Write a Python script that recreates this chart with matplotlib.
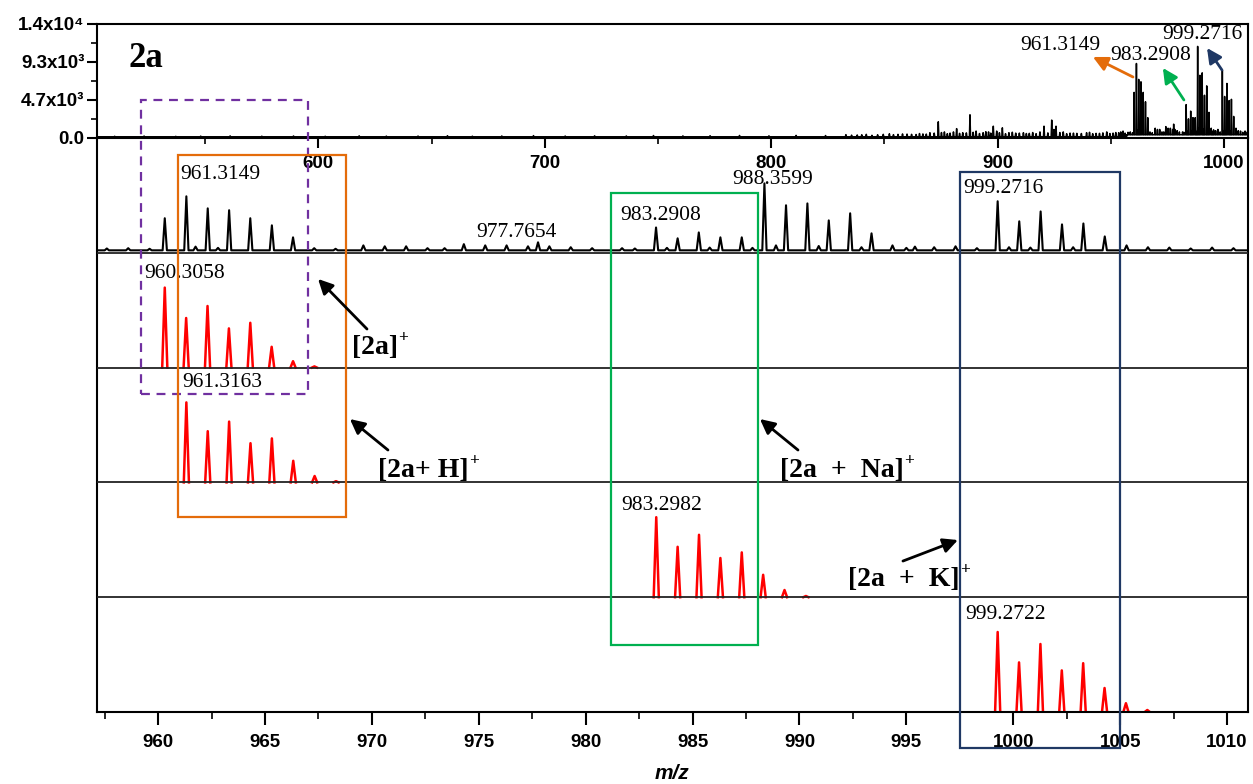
import numpy as np
import matplotlib.pyplot as plt
from matplotlib.patches import Rectangle

plt.rcParams['font.family'] = ['Liberation Sans', 'DejaVu Sans']

# experimental spectrum, zoomed region (m/z, counts above baseline)
exp_mz = [957.6, 958.6, 959.6, 960.31, 961.32, 961.75, 962.32, 962.8, 963.32, 964.31,
          965.32, 966.31, 967.3, 968.3, 969.6, 970.6, 971.6, 972.6, 973.4, 974.3,
          975.3, 976.3, 977.3, 977.77, 978.3, 979.3, 980.3, 981.7, 982.3, 983.29,
          983.8, 984.3, 985.29, 985.8, 986.3, 987.3, 987.8, 988.36, 988.9, 989.37,
          990.37, 990.9, 991.37, 992.37, 992.9, 993.37, 994.35, 995.0, 995.4, 996.3,
          997.3, 998.3, 999.27, 999.8, 1000.28, 1000.8, 1001.28, 1002.28, 1002.8, 1003.28,
          1004.28, 1005.3, 1006.3, 1007.3, 1008.3, 1009.3, 1010.3]
exp_int = [300, 350, 250, 5200, 8750, 600, 6800, 400, 6500, 5200,
           4050, 2100, 350, 250, 800, 650, 650, 350, 350, 1000,
           800, 800, 650, 1300, 650, 500, 350, 350, 300, 3700,
           400, 1950, 2900, 450, 2100, 2100, 400, 10850, 800, 7300,
           7600, 700, 4850, 6000, 500, 2750, 800, 400, 600, 500,
           650, 350, 7950, 500, 4700, 450, 6300, 4200, 500, 4350,
           2250, 800, 500, 450, 300, 450, 350]
exp_base = 400

# survey part of the full spectrum below the zoomed region
survey_mz = [510, 523, 537, 548, 561, 575, 589, 603, 618, 630, 644, 657, 668, 681, 695,
             709, 722, 736, 748, 761, 773, 786, 799, 811, 824, 833, 838, 842, 847, 852.2,
             856, 860, 864, 867, 870.1, 873.8, 876.5, 879, 881.9, 884.6, 887.8, 890.5, 893.6,
             896, 898.1, 902.1, 905, 908, 911.4, 914, 917, 920.5, 923.9, 925.8, 929, 932,
             935, 939.3, 942, 945, 948.2, 951, 953.5, 955.4,
             835.5, 840, 844.5, 849.5, 854, 858, 862, 865.5, 868.5, 872, 875.2, 877.8,
             880.5, 883.2, 886.2, 889.2, 892, 894.8, 897, 899.6, 900.8, 903.5, 906.5,
             909.6, 912.7, 915.5, 918.7, 922.2, 924.9, 927.5, 930.5, 933.5, 937, 940.6,
             943.5, 946.5, 949.6, 952.2, 954.4, 956.3]
survey_int = [60, 90, 50, 80, 110, 70, 100, 60, 120, 80, 90, 130, 70, 100, 140,
              90, 120, 100, 150, 110, 130, 160, 120, 170, 150, 260, 220, 300, 250, 370,
              300, 330, 280, 350, 500, 1840, 600, 450, 1000, 500, 2700, 700, 500,
              600, 1300, 1100, 500, 450, 500, 420, 380, 1300, 2050, 1300, 600, 450,
              420, 500, 380, 420, 600, 450, 500, 700,
              200, 250, 180, 300, 260, 350, 300, 400, 330, 450, 520, 380,
              600, 420, 480, 550, 400, 620, 450, 700, 500, 380, 560,
              450, 400, 520, 600, 480, 900, 520, 380, 450, 400, 550,
              420, 480, 400, 520, 600, 450]
survey_base = 150

# simulated isotope patterns (relative intensity %)
sim_2a_mz = [960.31, 961.31, 962.31, 963.31, 964.31, 965.31, 966.31, 967.31]
sim_2a_int = [100, 62, 77, 49, 56, 26, 8, 1.5]
sim_h_mz = [961.32, 962.32, 963.32, 964.32, 965.32, 966.32, 967.32, 968.32]
sim_h_int = [100, 64, 76, 49, 55, 27, 8, 1.5]
sim_na_mz = [983.30, 984.30, 985.30, 986.30, 987.30, 988.30, 989.30, 990.30]
sim_na_int = [100, 63, 78, 49, 56, 28, 9, 1.5]
sim_k_mz = [999.27, 1000.27, 1001.27, 1002.27, 1003.27, 1004.27, 1005.27, 1006.27]
sim_k_int = [100, 62, 85, 52, 61, 30, 11, 2.5]

ytick_vals = [0, 14000 / 3, 28000 / 3, 14000]
ytick_labels = ['0.0', '4.7x10³', '9.3x10³', '1.4x10⁴']


def profile(mz, inten, w, base=0.0, lo=None, hi=None, gaps=False):
    xs, ys = [], []
    if lo is not None:
        xs.append(lo); ys.append(base)
    for m, h in sorted(zip(mz, inten)):
        xs += [m - w, m, m + w]
        ys += [base, base + h, base]
        if gaps:
            xs.append(np.nan); ys.append(np.nan)
    if hi is not None:
        xs.append(hi); ys.append(base)
    return np.array(xs), np.array(ys)


W, H = 1253, 784
fig = plt.figure(figsize=(W / 100, H / 100), dpi=100)
ax_top = fig.add_axes([97 / W, (H - 138) / H, 1151 / W, 114 / H])
ax = fig.add_axes([97 / W, (H - 712) / H, 1151 / W, 574 / H])
ax.patch.set_facecolor('none')

serif = ['Liberation Serif']
orange, green, navy, purple = '#E46C0A', '#00B050', '#1F3864', '#7030A0'

# ---- full spectrum ----
sx, sy = profile(survey_mz, survey_int, 0.25, survey_base, lo=502.2, hi=957.0)
ex, ey = profile(exp_mz, exp_int, 0.15, exp_base, lo=957.0, hi=1010.6)
ax_top.plot(np.concatenate([sx, ex]), np.concatenate([sy, ey]), color='k', lw=1.1)
ax_top.set_xlim(502.2, 1010.6)
ax_top.set_ylim(0, 14000)
ax_top.set_xticks([600, 700, 800, 900, 1000])
ax_top.set_xticks([550, 650, 750, 850, 950], minor=True)
ax_top.set_yticks(ytick_vals)
ax_top.set_yticklabels(ytick_labels)
ax_top.set_yticks([7000 / 3, 21000 / 3, 35000 / 3], minor=True)
ax_top.tick_params(axis='x', which='major', direction='out', length=7, width=1.5, pad=5,
                   labelsize=13.5)
ax_top.tick_params(axis='x', which='minor', direction='out', length=4, width=1.2)
ax_top.tick_params(axis='y', which='major', direction='out', length=7, width=1.5, pad=2,
                   labelsize=13.5)
ax_top.tick_params(axis='y', which='minor', direction='out', length=4, width=1.2)
for lab in ax_top.get_xticklabels() + ax_top.get_yticklabels():
    lab.set_fontweight('bold')
for s in ax_top.spines.values():
    s.set_linewidth(1.5)

ax_top.text(0.027, 0.70, '2a', transform=ax_top.transAxes, family=serif,
            fontweight='bold', fontsize=25, va='center')
ax_top.text(909.9, 11420, '961.3149', family=serif, fontsize=15.5, va='center')
ax_top.text(949.6, 10190, '983.2908', family=serif, fontsize=15.5, va='center')
ax_top.text(972.6, 12770, '999.2716', family=serif, fontsize=15.5, va='center')
for (tx, ty), (hx, hy), c in [((959.8, 7490), (942.1, 9950), orange),
                               ((982.3, 4670), (973.0, 8600), green),
                               ((999.1, 8350), (992.5, 11050), navy)]:
    ax_top.annotate('', xy=(hx, hy), xytext=(tx, ty), annotation_clip=False,
                    arrowprops=dict(arrowstyle='-|>', color=c, lw=2,
                                    mutation_scale=22, shrinkA=0, shrinkB=0))

# ---- stacked panels ----
black_scale = 18600.0
red_scale = 143.5
bx, by = profile(exp_mz, exp_int, 0.1, exp_base, lo=957.0, hi=1011.2)
ax.plot(bx, 4 + by / black_scale, color='k', lw=1.5)

for off, mz, it in [(3, sim_2a_mz, sim_2a_int), (2, sim_h_mz, sim_h_int),
                    (1, sim_na_mz, sim_na_int), (0, sim_k_mz, sim_k_int)]:
    rx, ry = profile(mz, it, 0.12, gaps=True)
    ax.plot(rx, off + ry / red_scale, color='red', lw=1.8)

for k in range(1, 5):
    ax.axhline(k, color='#222222', lw=1.3, zorder=3)

ax.set_xlim(957.14, 1010.98)
ax.set_ylim(0, 5)
ax.set_yticks([])
ax.set_xticks(np.arange(960, 1011, 5))
ax.set_xticks(np.arange(957.5, 1010, 5), minor=True)
ax.tick_params(axis='x', which='major', direction='out', length=9, width=1.5, pad=7,
               labelsize=13.5)
ax.tick_params(axis='x', which='minor', direction='out', length=5, width=1.2)
for lab in ax.get_xticklabels():
    lab.set_fontweight('bold')
ax.spines['top'].set_visible(False)
for s in ['left', 'right', 'bottom']:
    ax.spines[s].set_linewidth(1.5)
ax.set_xlabel('m/z', fontsize=15, fontweight='bold', fontstyle='italic', labelpad=9)

# peak labels
for x, y, t in [(961.02, 4.678, '961.3149'), (974.87, 4.181, '977.7654'),
                (981.60, 4.329, '983.2908'), (986.84, 4.640, '988.3599'),
                (997.64, 4.556, '999.2716'), (959.34, 3.824, '960.3058'),
                (961.12, 2.866, '961.3163'), (981.65, 1.803, '983.2982'),
                (997.74, 0.845, '999.2722')]:
    ax.text(x, y, t, family=serif, fontsize=15.5, va='center', zorder=6)

# highlight boxes
for (x0, x1, y0, y1), c, ls in [((959.20, 967.01, 2.770, 5.331), purple, (0, (4, 3))),
                                ((960.93, 968.79, 1.699, 4.852), orange, '-'),
                                ((981.18, 988.06, 0.584, 4.521), green, '-'),
                                ((997.50, 1004.99, -0.314, 4.704), navy, '-')]:
    ax.add_patch(Rectangle((x0, y0), x1 - x0, y1 - y0, fill=False, edgecolor=c,
                           lw=1.6, ls=ls, clip_on=False, zorder=7))

# species labels with arrows
for (tx, ty), (hx, hy), (lx, ly), t in [
        ((969.77, 3.336), (967.48, 3.772), (969.07, 3.171), '[2a]'),
        ((970.75, 2.282), (968.97, 2.552), (970.28, 2.108), '[2a+ H]'),
        ((989.93, 2.282), (988.15, 2.552), (989.09, 2.108), '[2a  +  Na]'),
        ((994.84, 1.315), (997.41, 1.498), (992.27, 1.150), '[2a  +  K]')]:
    ax.annotate('', xy=(hx, hy), xytext=(tx, ty), annotation_clip=False,
                arrowprops=dict(arrowstyle='-|>', color='k', lw=2,
                                mutation_scale=22, shrinkA=0, shrinkB=0), zorder=8)
    lab = ax.text(lx, ly, t, family=serif, fontweight='bold', fontsize=20,
                  va='center', zorder=8)
    ax.annotate('+', xy=(1, 0.88), xycoords=lab, xytext=(0.3, 0),
                textcoords='offset points', family=serif, fontsize=12.5,
                fontweight='bold', ha='left', va='center', zorder=8)

fig.savefig('out.png', dpi=100)
